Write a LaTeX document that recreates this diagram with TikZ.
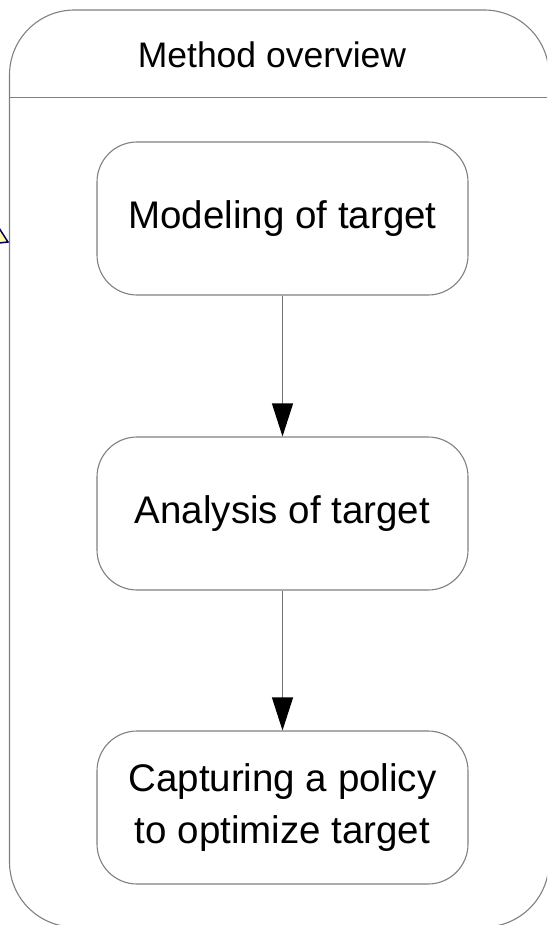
\documentclass[tikz,border=0pt]{standalone}
\usepackage{fontspec}
\setmainfont{Liberation Sans}
\usetikzlibrary{arrows.meta}
\begin{document}
\begin{tikzpicture}[x=1pt,y=-1pt,
  frame/.style={draw=black!50,line width=1.1pt},
  stepbox/.style={draw=black!50,line width=1.1pt,rounded corners=40pt,
    minimum width=371pt,minimum height=153pt,align=center,
    font=\fontsize{38.5}{52}\selectfont,inner sep=0pt},
  flow/.style={draw=black!55,line width=1.1pt,
    -{Triangle[width=21pt,length=33pt,black]}}]
\useasboundingbox (0,0) rectangle (547,925);
\begin{scope}
\clip (0,0) rectangle (547,925);
% swimlane frame with its title compartment
\draw[frame,rounded corners=65pt] (9.5,10) rectangle (549,927);
\draw[frame] (9.5,97.5) -- (549,97.5);
% tip of an incoming open arrowhead on the left border
\filldraw[draw=blue!35!black,fill=yellow!35,line width=1.5pt,line join=miter]
  (-1,228) -- (8,242) -- (-1,243) -- cycle;
\end{scope}
\node[anchor=base,font=\fontsize{35.5}{42}\selectfont] (title) at (272,68) {Method overview};
\node[stepbox] (model) at (282.5,218.5) {Modeling of target};
\node[stepbox] (analysis) at (282.5,513.5) {Analysis of target};
\node[stepbox] (policy) at (282.5,807.5) {Capturing a policy\\to optimize target};
\draw[flow] (model) -- (analysis);
\draw[flow] (analysis) -- (policy);
\end{tikzpicture}
\end{document}
